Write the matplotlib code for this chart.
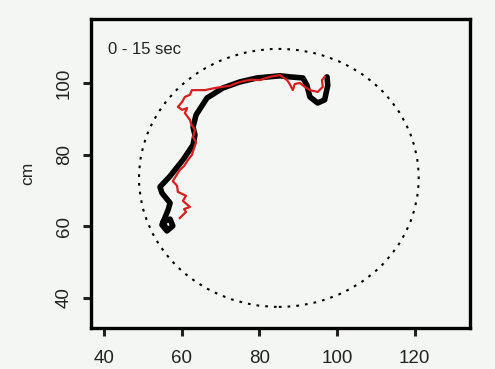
import numpy as np
import matplotlib.pyplot as plt
from matplotlib.patches import Circle

# tracked positions (cm)
black_x = [55.9, 55.2, 57.0, 57.7, 56.2, 54.9, 56.5, 57.0, 54.9, 54.4, 57.0, 60.3,
           62.9, 63.4, 62.9, 63.7, 66.5, 70.6, 75.0, 79.4, 85.3, 87.8, 91.2, 92.2,
           93.0, 95.0, 96.8, 97.6, 97.4]
black_y = [59.5, 61.2, 62.0, 60.1, 58.7, 60.4, 64.6, 66.5, 69.3, 71.0, 74.0, 78.5,
           82.7, 85.5, 87.7, 91.1, 95.8, 98.6, 100.3, 101.4, 102.0, 101.7, 101.4, 99.4,
           96.1, 94.4, 95.3, 99.4, 101.7]

red_x = [59.5, 61.1, 60.6, 62.1, 60.3, 61.1, 59.0, 58.8, 57.7, 58.5, 59.5, 60.6,
         61.6, 62.6, 63.2, 63.7, 62.9, 63.4, 62.4, 62.1, 60.8, 61.4, 60.1, 59.0,
         60.1, 60.8, 62.1, 62.6, 66.0, 68.6, 70.4, 72.4, 74.2, 76.3, 78.1, 80.1,
         82.7, 85.3, 87.1, 87.8, 88.6, 89.1, 90.4, 91.7, 93.0, 95.0, 96.3, 96.1,
         96.8]
red_y = [62.3, 64.0, 64.8, 65.4, 67.1, 68.5, 69.6, 71.3, 72.6, 74.0, 75.7, 76.8,
         78.5, 79.9, 81.9, 83.5, 84.9, 86.9, 88.6, 89.7, 91.6, 93.0, 92.5, 93.3,
         94.7, 96.1, 96.7, 98.0, 98.0, 98.6, 98.9, 99.2, 100.0, 100.6, 100.9, 100.8,
         101.7, 102.2, 100.8, 99.7, 98.0, 99.7, 100.0, 98.9, 98.0, 97.5, 98.9, 100.8,
         101.7]

arena_center = (85.0, 73.5)
arena_radius = 36.0
xticks = [40, 60, 80, 100, 120]
yticks = [40, 60, 80, 100]

plt.rcParams['font.family'] = ['Liberation Sans', 'DejaVu Sans']

bg = '#f4f6f3'
fig = plt.figure(figsize=(4.95, 3.69), dpi=100, facecolor=bg)
ax = fig.add_axes([0.184, 0.111, 0.765, 0.838], facecolor=bg)

ax.add_patch(Circle(arena_center, arena_radius, fill=False, color='black',
                    lw=1.5, linestyle=(0, (1.3, 2.9))))
ax.plot(black_x, black_y, color='black', lw=4.0, solid_joinstyle='round',
        solid_capstyle='round')
ax.plot(red_x, red_y, color='#d81e1e', lw=1.6)

ax.set_xlim(36.66, 134.15)
ax.set_ylim(31.6, 117.9)
ax.set_xticks(xticks)
ax.set_yticks(yticks)
ax.tick_params(axis='x', length=6, width=2.2, pad=10, labelsize=13.5, colors='#222222')
ax.tick_params(axis='y', length=6, width=2.2, pad=7, labelsize=13.5, colors='#222222')
for lab in ax.get_yticklabels():
    lab.set_rotation(90)
    lab.set_va('center')
for s in ax.spines.values():
    s.set_linewidth(2.4)

ax.set_ylabel('cm', fontsize=12.5, color='#222222', labelpad=15)
ax.text(0.045, 0.90, '0 - 15 sec', transform=ax.transAxes, fontsize=12,
        color='#222222', va='center')

fig.savefig('out.png', dpi=100, facecolor=bg)
